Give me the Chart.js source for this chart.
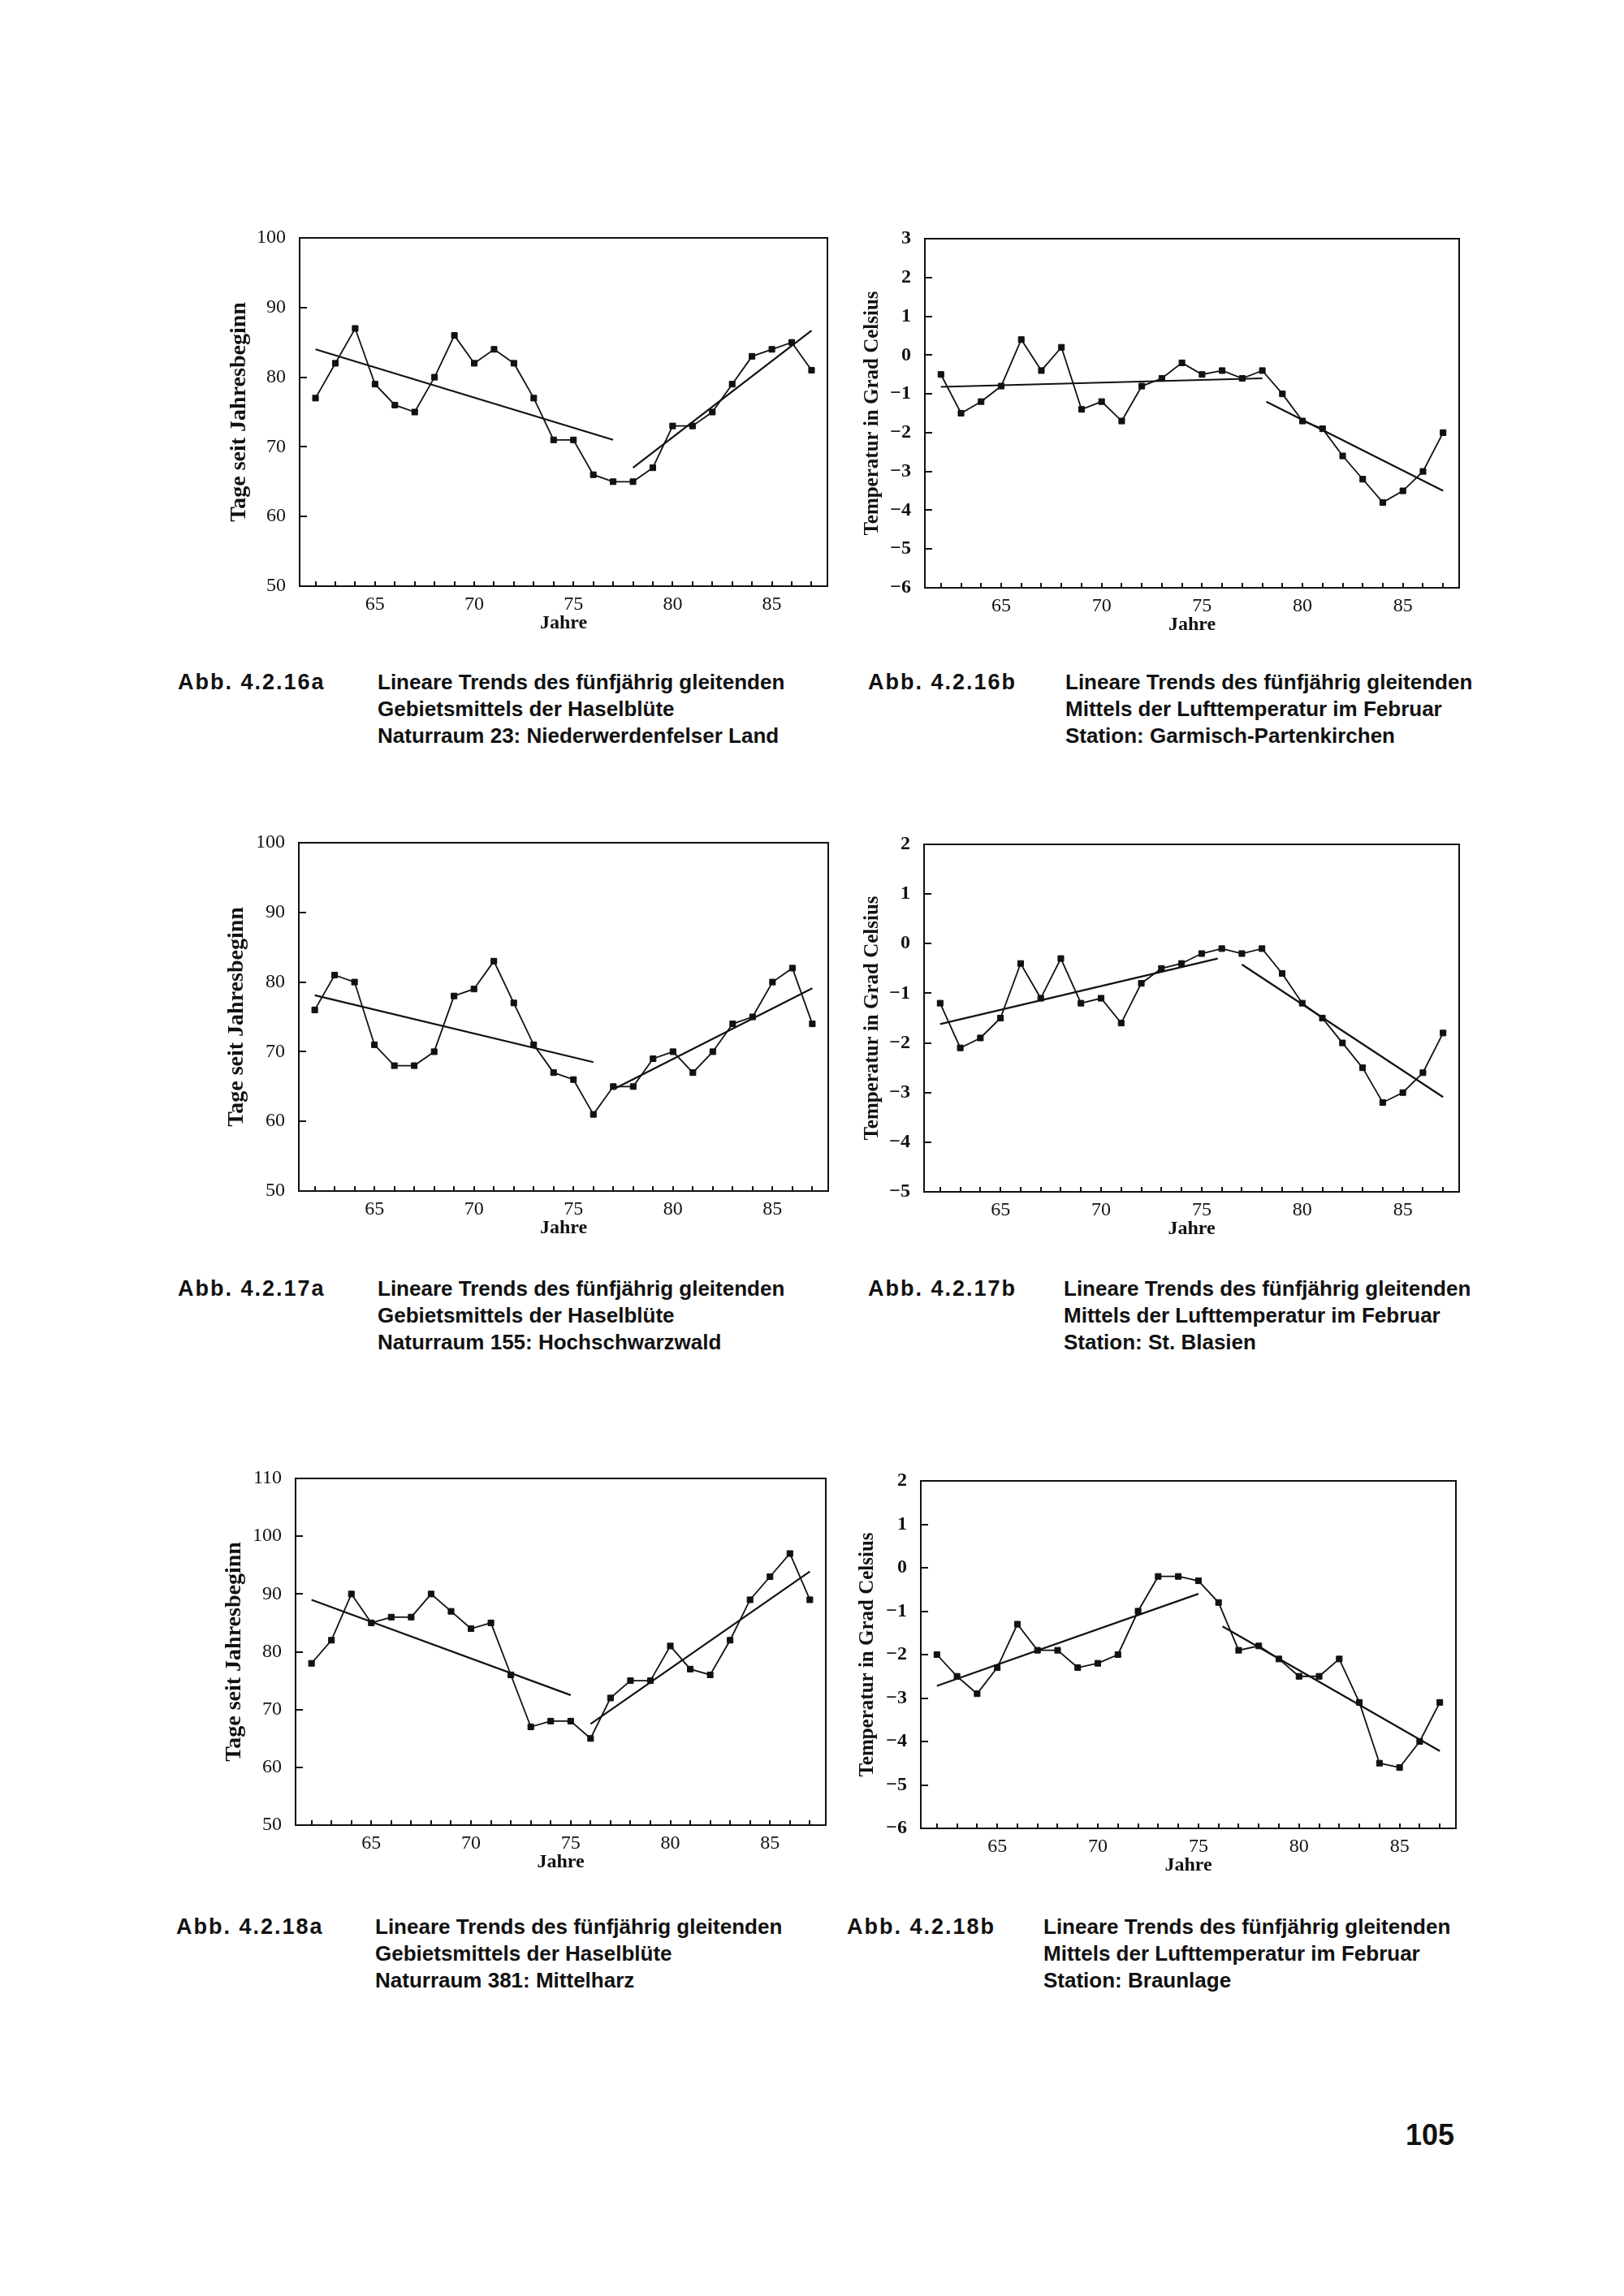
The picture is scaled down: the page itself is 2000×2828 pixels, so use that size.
<!DOCTYPE html>
<html>
<head>
<meta charset="utf-8">
<title>Abb. 4.2.16 - 4.2.18</title>
<script src="https://cdn.jsdelivr.net/npm/chart.js@4.4.1/dist/chart.umd.min.js"></script>
<style>
  body { margin: 0; background: #fff; width: 2000px; height: 2828px; position: relative; overflow: hidden; }
  canvas { position: absolute; }
  .cap { position: absolute; font-family: "Liberation Sans", Arial, sans-serif; font-weight: bold;
         font-size: 26px; line-height: 33px; color: #111; white-space: nowrap; }
  .abb { letter-spacing: 2px; font-size: 27px; }
  .page { position: absolute; font-family: "Liberation Sans", Arial, sans-serif; font-weight: bold;
          font-size: 36px; line-height: 36px; color: #111; }
</style>
</head>
<body>
<script>
// --- data ---
const years = [62, 63, 64, 65, 66, 67, 68, 69, 70, 71, 72, 73, 74, 75, 76, 77, 78, 79, 80, 81, 82, 83, 84, 85, 86, 87];
const labelYears = [65, 70, 75, 80, 85];

// Haselbluete, Tage seit Jahresbeginn
const bluete16a = [77, 82, 87, 79, 76, 75, 80, 86, 82, 84, 82, 77, 71, 71, 66, 65, 65, 67, 73, 73, 75, 79, 83, 84, 85, 81];
const bluete17a = [76, 81, 80, 71, 68, 68, 70, 78, 79, 83, 77, 71, 67, 66, 61, 65, 65, 69, 70, 67, 70, 74, 75, 80, 82, 74];
const bluete18a = [78, 82, 90, 85, 86, 86, 90, 87, 84, 85, 76, 67, 68, 68, 65, 72, 75, 75, 81, 77, 76, 82, 89, 93, 97, 89];

// Lufttemperatur im Februar, Grad Celsius
const temp16b = [-0.5, -1.5, -1.2, -0.8, 0.4, -0.4, 0.2, -1.4, -1.2, -1.7, -0.8, -0.6, -0.2, -0.5, -0.4, -0.6, -0.4, -1.0, -1.7, -1.9, -2.6, -3.2, -3.8, -3.5, -3.0, -2.0];
const temp17b = [-1.2, -2.1, -1.9, -1.5, -0.4, -1.1, -0.3, -1.2, -1.1, -1.6, -0.8, -0.5, -0.4, -0.2, -0.1, -0.2, -0.1, -0.6, -1.2, -1.5, -2.0, -2.5, -3.2, -3.0, -2.6, -1.8];
const temp18b = [-2.0, -2.5, -2.9, -2.3, -1.3, -1.9, -1.9, -2.3, -2.2, -2.0, -1.0, -0.2, -0.2, -0.3, -0.8, -1.9, -1.8, -2.1, -2.5, -2.5, -2.1, -3.1, -4.5, -4.6, -4.0, -3.1];

// linear trends: [start year, value], [end year, value]
const trend16a1 = [[62, 84], [77, 71]];
const trend16a2 = [[78, 67], [87, 86.7]];
const trend16b1 = [[62, -0.82], [78, -0.6]];
const trend16b2 = [[78.2, -1.2], [87, -3.5]];
const trend17a1 = [[62, 78.1], [76, 68.5]];
const trend17a2 = [[77, 64.6], [87, 79.1]];
const trend17b1 = [[62, -1.62], [75.8, -0.3]];
const trend17b2 = [[77, -0.42], [87, -3.09]];
const trend18a1 = [[62, 89], [75, 72.5]];
const trend18a2 = [[76, 67.5], [87, 93.9]];
const trend18b1 = [[62, -2.72], [75, -0.6]];
const trend18b2 = [[76.2, -1.35], [87, -4.22]];

const INK = '#111';
const SERIF = '"Liberation Serif", "Times New Roman", serif';

// frame round the plot area (top and right edges too)
const framePlugin = {
  id: 'frame',
  afterDraw(chart) {
    const { ctx, chartArea: a } = chart;
    ctx.save();
    ctx.strokeStyle = INK;
    ctx.lineWidth = 2;
    ctx.strokeRect(a.left, a.top, a.right - a.left, a.bottom - a.top);
    ctx.restore();
  }
};

function makeChart(box, values, trends, yMin, yMax, yStep, yTitle, titleSize, titleOff, boldTicks) {
  // T must cover the y tick padding Chart.js adds above the top label
  const L = 100, T = 45, R = 20, B = 70;
  const w = box.r - box.l, h = box.b - box.t;
  const canvas = document.createElement('canvas');
  canvas.width = w + L + R;
  canvas.height = h + T + B;
  canvas.style.left = (box.l - L) + 'px';
  canvas.style.top = (box.t - T) + 'px';
  document.body.appendChild(canvas);

  const datasets = [{
    data: values.map((v, i) => ({ x: years[i], y: v })),
    borderColor: INK,
    borderWidth: 1.8,
    pointStyle: 'rect',
    pointRadius: 5,
    pointBackgroundColor: INK,
    pointBorderColor: INK,
    pointBorderWidth: 1,
    tension: 0
  }];
  trends.forEach(t => datasets.push({
    data: t.map(p => ({ x: p[0], y: p[1] })),
    borderColor: INK,
    borderWidth: 2.2,
    pointRadius: 0,
    tension: 0
  }));

  new Chart(canvas, {
    type: 'line',
    data: { datasets: datasets },
    plugins: [framePlugin],
    options: {
      responsive: false,
      animation: false,
      devicePixelRatio: 1,
      layout: { padding: { top: T, right: R, left: 0, bottom: 0 } },
      plugins: { legend: { display: false }, tooltip: { enabled: false } },
      scales: {
        x: {
          type: 'linear',
          min: 61.2,
          max: 87.8,
          afterBuildTicks: s => { s.ticks = years.map(v => ({ value: v })); },
          afterFit: s => { s.height = B; },
          ticks: {
            autoSkip: false, maxRotation: 0, minRotation: 0, padding: 14, color: INK,
            font: { family: SERIF, size: 24 },
            callback: v => labelYears.includes(v) ? String(v) : ''
          },
          grid: { drawOnChartArea: false, drawTicks: true, tickLength: -6, color: INK, lineWidth: 2 },
          border: { display: true, color: INK, width: 2 },
          title: {
            display: true, text: 'Jahre', color: INK,
            font: { family: SERIF, size: 24, weight: 'bold' },
            padding: { top: 0, bottom: 10 }
          }
        },
        y: {
          min: yMin,
          max: yMax,
          afterFit: s => { s.width = L; },
          ticks: {
            stepSize: yStep, padding: 26, color: INK,
            font: { family: SERIF, size: 24, weight: boldTicks ? 'bold' : 'normal' },
            callback: v => v < 0 ? '\u2212' + Math.abs(v) : String(v)
          },
          grid: { drawOnChartArea: false, drawTicks: true, tickLength: -9, color: INK, lineWidth: 2 },
          border: { display: true, color: INK, width: 2 },
          title: {
            display: true, text: yTitle, color: INK,
            font: { family: SERIF, size: titleSize, weight: 'bold' },
            padding: { top: L - titleOff - 0.6 * titleSize, bottom: 0 }
          }
        }
      }
    }
  });
}

const DAYS = 'Tage seit Jahresbeginn';
const TEMP = 'Temperatur in Grad Celsius';

makeChart({ l: 369, t: 293, r: 1019, b: 722 }, bluete16a, [trend16a1, trend16a2], 50, 100, 10, DAYS, 28, 74, false);
makeChart({ l: 1139, t: 294, r: 1797, b: 724 }, temp16b, [trend16b1, trend16b2], -6, 3, 1, TEMP, 25, 64, true);
makeChart({ l: 368, t: 1038, r: 1020, b: 1467 }, bluete17a, [trend17a1, trend17a2], 50, 100, 10, DAYS, 28, 76, false);
makeChart({ l: 1138, t: 1040, r: 1797, b: 1468 }, temp17b, [trend17b1, trend17b2], -5, 2, 1, TEMP, 25, 63, true);
makeChart({ l: 364, t: 1821, r: 1017, b: 2248 }, bluete18a, [trend18a1, trend18a2], 50, 110, 10, DAYS, 28, 75, false);
makeChart({ l: 1134, t: 1824, r: 1793, b: 2252 }, temp18b, [trend18b1, trend18b2], -6, 2, 1, TEMP, 25, 65, true);

// captions
const captionLines = {
  a16: ['Lineare Trends des fünfjährig gleitenden', 'Gebietsmittels der Haselblüte', 'Naturraum 23: Niederwerdenfelser Land'],
  b16: ['Lineare Trends des fünfjährig gleitenden', 'Mittels der Lufttemperatur im Februar', 'Station: Garmisch-Partenkirchen'],
  a17: ['Lineare Trends des fünfjährig gleitenden', 'Gebietsmittels der Haselblüte', 'Naturraum 155: Hochschwarzwald'],
  b17: ['Lineare Trends des fünfjährig gleitenden', 'Mittels der Lufttemperatur im Februar', 'Station: St. Blasien'],
  a18: ['Lineare Trends des fünfjährig gleitenden', 'Gebietsmittels der Haselblüte', 'Naturraum 381: Mittelharz'],
  b18: ['Lineare Trends des fünfjährig gleitenden', 'Mittels der Lufttemperatur im Februar', 'Station: Braunlage']
};

function caption(label, lines, x1, x2, y) {
  const a = document.createElement('div');
  a.className = 'cap abb';
  a.style.left = x1 + 'px';
  a.style.top = (y - 16) + 'px';
  a.textContent = label;
  document.body.appendChild(a);
  const b = document.createElement('div');
  b.className = 'cap';
  b.style.left = x2 + 'px';
  b.style.top = (y - 16) + 'px';
  b.innerHTML = lines.join('<br>');
  document.body.appendChild(b);
}

caption('Abb. 4.2.16a', captionLines.a16, 219, 465, 840);
caption('Abb. 4.2.16b', captionLines.b16, 1069, 1312, 840);
caption('Abb. 4.2.17a', captionLines.a17, 219, 465, 1587);
caption('Abb. 4.2.17b', captionLines.b17, 1069, 1310, 1587);
caption('Abb. 4.2.18a', captionLines.a18, 217, 462, 2373);
caption('Abb. 4.2.18b', captionLines.b18, 1043, 1285, 2373);

const pg = document.createElement('div');
pg.className = 'page';
pg.style.left = '1731px';
pg.style.top = '2612px';
pg.textContent = '105';
document.body.appendChild(pg);
</script>
</body>
</html>
